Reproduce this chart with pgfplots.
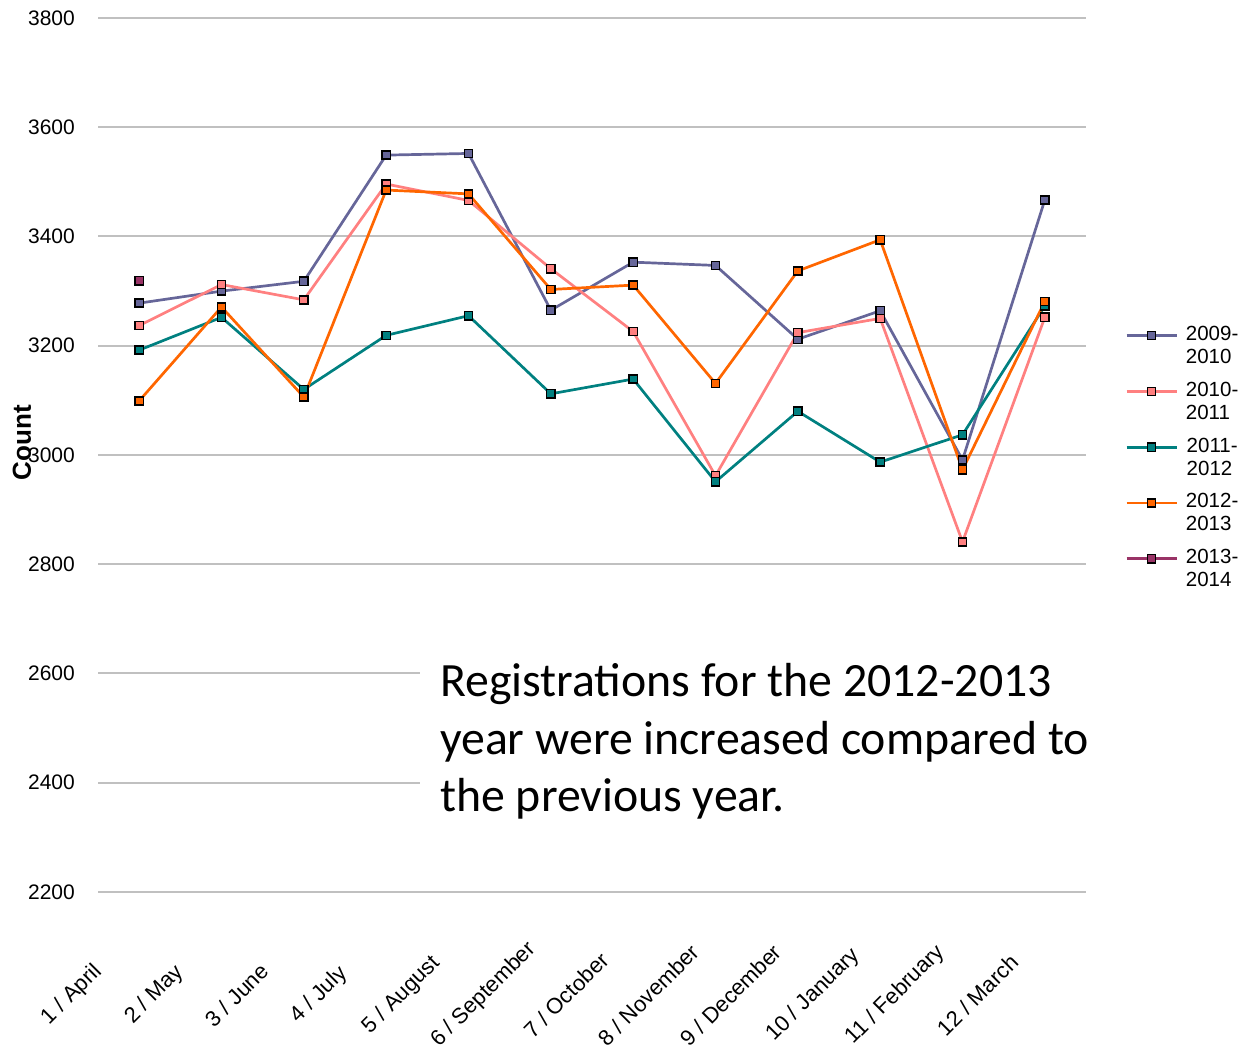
\documentclass[border=0pt]{standalone}
\usepackage{pgfplots}
\pgfplotsset{compat=1.18}
\usepackage{fontspec}
\setmainfont{Liberation Sans}
\newfontfamily\calibri{Carlito}

\definecolor{sA}{HTML}{666699}
\definecolor{sB}{HTML}{FF8080}
\definecolor{sC}{HTML}{008080}
\definecolor{sD}{HTML}{FF6600}
\definecolor{sE}{HTML}{993366}
\definecolor{gridc}{HTML}{C0C0C0}

\pgfplotsset{
  series/.style={#1, line width=2.7bp, mark=square*, mark size=4.1bp,
    mark options={draw=black, fill=#1, line width=1.5bp}},
}

\begin{document}
\begin{tikzpicture}
\useasboundingbox (0,0) rectangle (1242bp,1049bp);
\begin{axis}[
  at={(98bp,157bp)}, anchor=south west,
  scale only axis, width=988bp, height=874bp,
  xmin=-0.5, xmax=11.5, ymin=2200, ymax=3800,
  ytick={2200,2400,2600,2800,3000,3200,3400,3600,3800},
  yticklabels={2200,2400,2600,2800,3000,3200,3400,3600,3800},
  xtick={0,...,11},
  xticklabels={1 / April, 2 / May, 3 / June, 4 / July, 5 / August, 6 / September,
    7 / October, 8 / November, 9 / December, 10 / January, 11 / February, 12 / March},
  axis line style={draw=none},
  major tick length=0pt,
  ymajorgrids, grid style={gridc, line width=2bp},
  yticklabel style={anchor=east, inner sep=0pt, xshift=-23bp,
    font=\fontsize{21bp}{25bp}\selectfont},
  xticklabel style={anchor=center, inner sep=0pt, xshift=-67bp, yshift=-103bp, rotate=45,
    font=\fontsize{22bp}{26bp}\selectfont},
  ylabel={Count},
  every axis y label/.style={at={(axis description cs:0,0.514)}, xshift=-76bp,
    rotate=90, anchor=center, font=\bfseries\fontsize{26bp}{30bp}\selectfont},
  clip=false,
  legend style={at={(axis description cs:1.0395,0.6476)}, anchor=north west,
    draw=none, fill=none, inner sep=0pt, row sep=17bp, column sep=8bp,
    font=\fontsize{20.5bp}{23bp}\selectfont, cells={align=left},
    nodes={inner sep=0pt}},
  legend image code/.code={\draw[#1, mark repeat=2, mark phase=2]
    plot coordinates {(0bp,10bp) (25bp,10bp) (50bp,10bp)};},
]
% 2009-2010
\addplot[series=sA] coordinates {
  (0,3278) (1,3300) (2,3318) (3,3549) (4,3552) (5,3265)
  (6,3353) (7,3347) (8,3212) (9,3264) (10,2991) (11,3467)};
% 2010-2011
\addplot[series=sB] coordinates {
  (0,3237) (1,3312) (2,3284) (3,3496) (4,3466) (5,3341)
  (6,3226) (7,2962) (8,3224) (9,3250) (10,2841) (11,3252)};
% 2011-2012
\addplot[series=sC] coordinates {
  (0,3192) (1,3252) (2,3120) (3,3219) (4,3255) (5,3112)
  (6,3139) (7,2951) (8,3080) (9,2987) (10,3037) (11,3273)};
% 2012-2013
\addplot[series=sD] coordinates {
  (0,3099) (1,3271) (2,3106) (3,3485) (4,3478) (5,3303)
  (6,3311) (7,3131) (8,3337) (9,3394) (10,2973) (11,3281)};
% 2013-2014 (first month only)
\addplot[series=sE] coordinates {(0,3319)};
\legend{{2009-\\2010},{2010-\\2011},{2011-\\2012},{2012-\\2013},{2013-\\2014}}
\end{axis}
% comment box
\fill[white] (420bp,214bp) rectangle (1100bp,424bp);
\begin{scope}[every node/.style={anchor=base west, inner sep=0pt,
    font=\calibri\fontsize{47.8bp}{57.5bp}\selectfont}]
\node at (440bp,352bp) {Registrations for the 2012-2013};
\node at (440bp,294bp) {year were increased compared to};
\node at (440bp,237bp) {the previous year.};
\end{scope}
\end{tikzpicture}
\end{document}
